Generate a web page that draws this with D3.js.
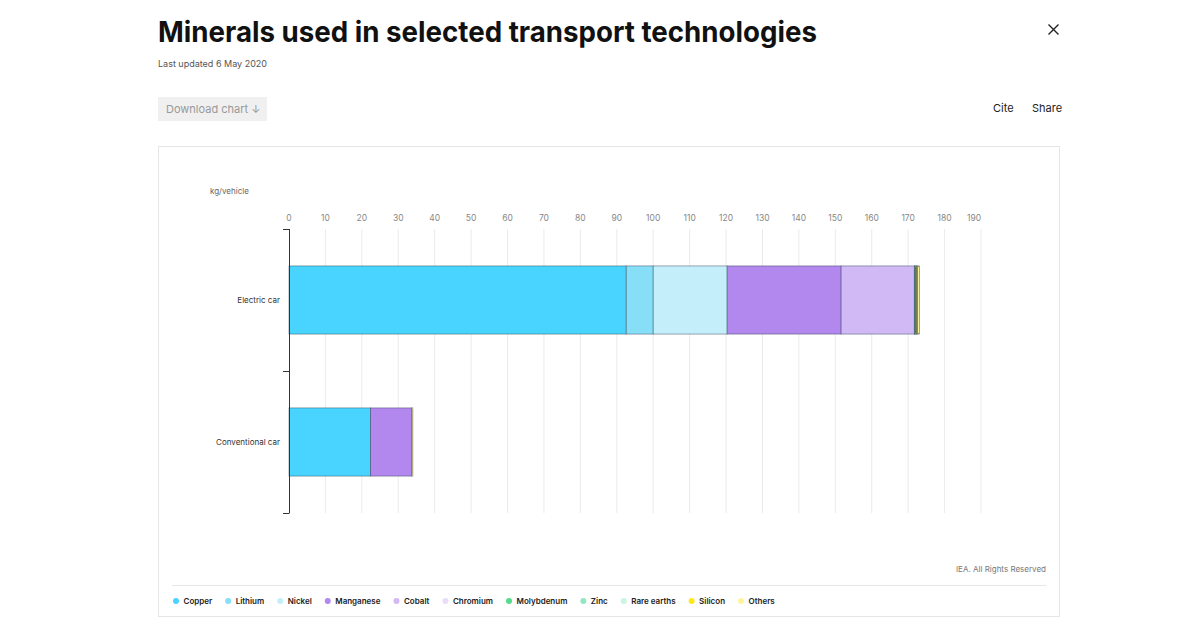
<!DOCTYPE html>
<html><head><meta charset="utf-8">
<script src="https://cdn.jsdelivr.net/npm/d3@7"></script>
<style>
html,body{margin:0;padding:0;background:#fff;}
svg{display:block;font-family:Inter,"Noto Sans",sans-serif;}
</style></head>
<body>
<svg id="c" width="1200" height="641"></svg>
<script>
const categories = ["Electric car", "Conventional car"];
const minerals = ["Copper","Lithium","Nickel","Manganese","Cobalt","Chromium","Molybdenum","Zinc","Rare earths","Silicon","Others"];
const colors = ["#48d4fe","#86dff7","#c4eefa","#b287ee","#d1b9f5","#e8ddfa","#52dd8c","#8fe8c2","#cbf5e2","#ffe81a","#fff49b"];
const electricCar = [92.6, 7.4, 20.3, 31.3, 20.1, 0.1, 0.3, 0.1, 0.1, 0.3, 0.5];
const conventionalCar = [22.4, 0, 0, 11.3, 0, 0, 0, 0, 0, 0, 0.3];
const xTicks = [0,10,20,30,40,50,60,70,80,90,100,110,120,130,140,150,160,170,180,190];

const values = [electricCar, conventionalCar];
const svg = d3.select("#c");

// Header
const title = svg.append("text").attr("x",158).attr("y",42).attr("font-size",29).attr("font-weight",700)
  .attr("fill","#111").text("Minerals used in selected transport technologies");
title.attr("textLength",659).attr("lengthAdjust","spacingAndGlyphs");
svg.append("text").attr("x",158).attr("y",67).attr("font-size",9).attr("fill","#555").text("Last updated 6 May 2020");
svg.append("rect").attr("x",158).attr("y",97).attr("width",109).attr("height",24).attr("fill","#f0f0f0");
svg.append("text").attr("x",166).attr("y",112.5).attr("font-size",11).attr("fill","#999").text("Download chart \u2193");
svg.append("text").attr("x",993).attr("y",112).attr("font-size",11).attr("fill","#222").text("Cite");
svg.append("text").attr("x",1032).attr("y",112).attr("font-size",11).attr("fill","#222").text("Share");
svg.append("path").attr("d","M1048.5,24.5 L1058.5,34.5 M1058.5,24.5 L1048.5,34.5").attr("stroke","#222").attr("stroke-width",1.4);

// Panel
svg.append("rect").attr("x",158.5).attr("y",146.5).attr("width",901).attr("height",470)
  .attr("fill","none").attr("stroke","#e6e6e6");

svg.append("text").attr("x",210).attr("y",194).attr("font-size",8).attr("fill","#666").text("kg/vehicle");

const x = d3.scaleLinear().domain([0,190]).range([289,981]);
const y = d3.scaleBand().domain(categories).range([229,513]).paddingInner(0.52).paddingOuter(0.26);

// grid
svg.append("g").selectAll("line").data(xTicks.filter(d=>d>0)).join("line")
  .attr("x1",d=>x(d)).attr("x2",d=>x(d)).attr("y1",229).attr("y2",513)
  .attr("stroke","#ebebeb").attr("stroke-width",1);

// tick labels
svg.append("g").selectAll("text").data(xTicks).join("text")
  .attr("x",d=> d===190 ? x(d)-7 : x(d)).attr("y",221).attr("text-anchor","middle")
  .attr("font-size",8.5).attr("fill","#888").text(d=>d);

// stacked bars
const rows = categories.map((c,i)=>{const o={cat:c}; minerals.forEach((m,j)=>o[m]=values[i][j]); return o;});
const stack = d3.stack().keys(minerals)(rows);
const g = svg.append("g");
stack.forEach((layer,j)=>{
  g.selectAll(null).data(layer.filter(d=>d[1]-d[0]>0)).join("rect")
    .attr("x",d=>x(d[0])).attr("width",d=>x(d[1])-x(d[0]))
    .attr("y",d=>y(d.data.cat)).attr("height",y.bandwidth())
    .attr("fill",colors[j]).attr("stroke","rgba(40,60,80,0.55)").attr("stroke-width",0.8);
});

// y axis
const yAxisBounds = [229, 371, 513];
svg.append("line").attr("x1",289.5).attr("x2",289.5).attr("y1",229).attr("y2",513).attr("stroke","#333");
svg.append("g").selectAll("line").data(yAxisBounds).join("line")
  .attr("x1",283).attr("x2",289.5).attr("y1",d=>d+0.5).attr("y2",d=>d+0.5).attr("stroke","#333");
svg.append("g").selectAll("text").data(categories).join("text")
  .attr("x",280).attr("y",d=>y(d)+y.bandwidth()/2+3).attr("text-anchor","end")
  .attr("font-size",8).attr("fill","#333").text(d=>d);

// credit
svg.append("text").attr("x",1046).attr("y",572).attr("text-anchor","end").attr("font-size",8).attr("fill","#777").text("IEA. All Rights Reserved");
svg.append("line").attr("x1",172).attr("x2",1046).attr("y1",585.5).attr("y2",585.5).attr("stroke","#e6e6e6");

// legend
const lg = svg.append("g");
let lx = 176;
minerals.forEach((m,j)=>{
  lg.append("circle").attr("cx",lx).attr("cy",601).attr("r",3).attr("fill",colors[j]);
  const t = lg.append("text").attr("x",lx+7.5).attr("y",604).attr("font-size",8).attr("font-weight",600).attr("fill","#222").text(m);
  const w = t.node().getComputedTextLength();
  lx = lx + 7.5 + w + 16;
});
</script>
</body></html>
